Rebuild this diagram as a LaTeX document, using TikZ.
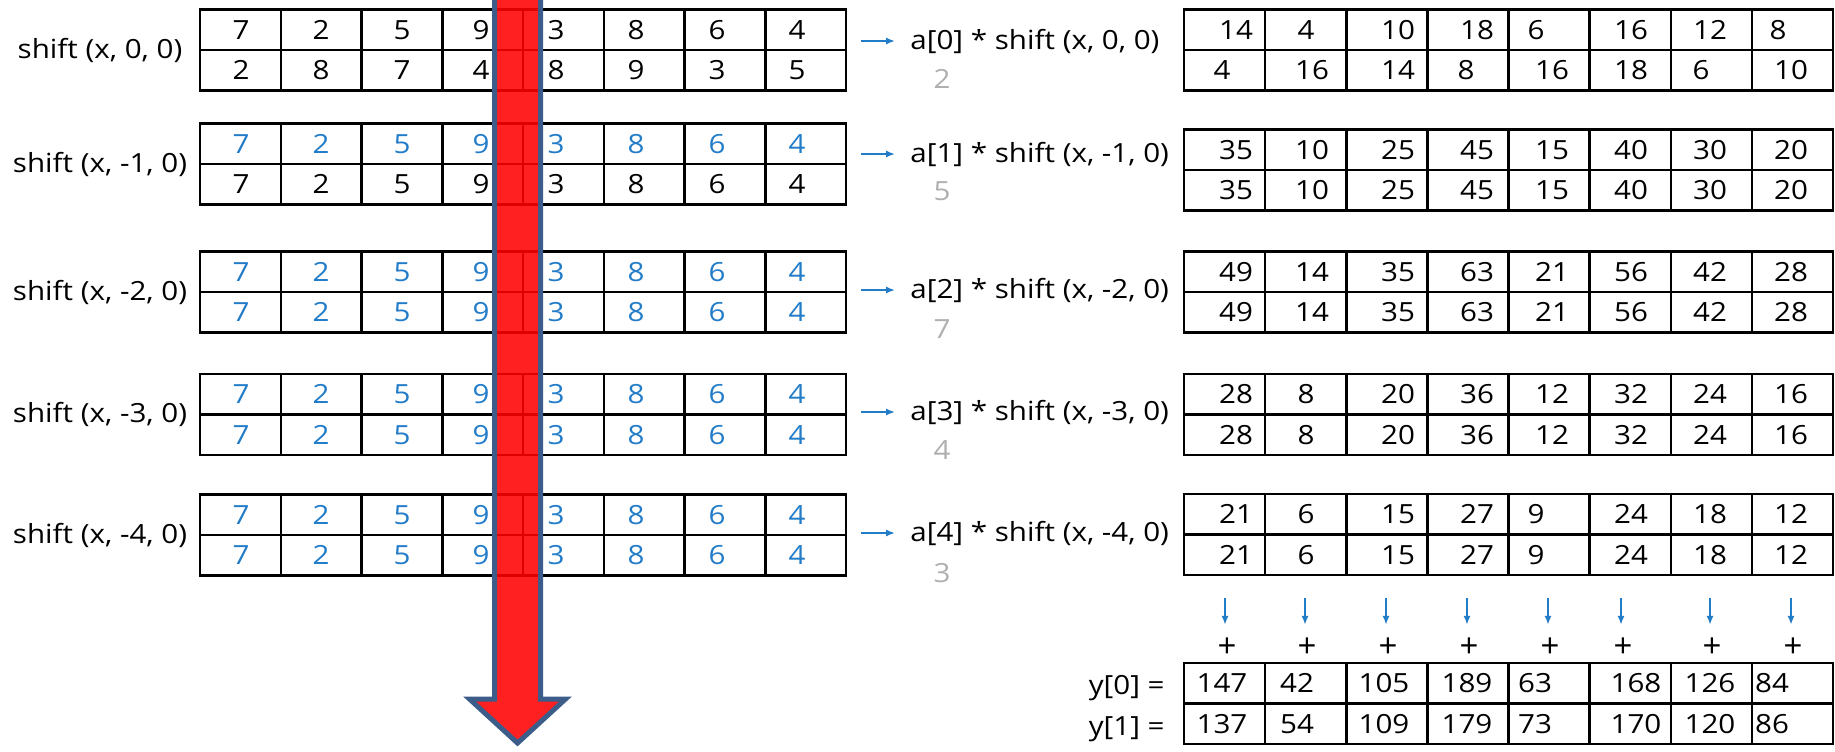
\documentclass[tikz,border=0pt]{standalone}
\usepackage{fontspec}
\setmainfont{Open Sans}
\usetikzlibrary{arrows.meta}
\definecolor{cellblue}{RGB}{34,124,200}
\definecolor{factorgrey}{RGB}{175,175,175}
\definecolor{arrowedge}{RGB}{60,92,138}
\tikzset{
  grid line/.style={line width=1.25pt,draw=black},
  cell/.style={inner sep=0pt,anchor=center},
  label text/.style={inner sep=0pt},
  sum sign/.style={inner sep=0pt,font=\fontsize{16.5}{18}\selectfont},
  flow/.style={-{Latex[length=4.5pt,width=3.6pt]},line width=1pt,draw=cellblue},
  sweep/.style={
    fill=red,
    fill opacity=0.87,
    draw=arrowedge,
    line width=2.5pt,
    line join=miter
  }
}
\newcommand{\widetext}[1]{\scalebox{1.12}[1]{#1}}
% frame of a two-row grid: left x, right x, top y
\newcommand{\gridframe}[3]{%
  \draw[grid line] (#1,#3) rectangle (#2,#3+81)
    (#1,#3+40.5) -- (#2,#3+40.5);
  \foreach \k in {1,...,7}
    \draw[grid line] ({#1+(#2-#1)*\k/8},#3) -- ++(0,81);
}
\newcommand{\inputrow}[4]{%
  \foreach \v [count=\i] in {#4} {
    \pgfmathsetmacro{\cx}{{241,321,402,481,556,636,717,797}[\i-1]}
    \node[cell,text=#3] (#1-\i) at (\cx,#2) {\widetext{\v}};
  }%
}
\newcommand{\productrow}[3]{%
  \foreach \v [count=\i] in {#3} {
    \ifnum\v<10
      \pgfmathsetmacro{\cx}{{1222,1306,1397,1466,1536,1631,1701,1778}[\i-1]}%
    \else
      \pgfmathsetmacro{\cx}{{1236,1312,1398,1477,1552,1631,1710,1791}[\i-1]}%
    \fi
    \node[cell] (#1-\i) at (\cx,#2) {\widetext{\v}};
  }%
}
\newcommand{\sumrow}[3]{%
  \foreach \v [count=\i] in {#3} {
    \pgfmathsetmacro{\cx}{{1222,1297,1384,1467,1535,1636,1710,1772}[\i-1]}
    \node[cell] (#1-\i) at (\cx,#2) {\widetext{\v}};
  }%
}

\begin{document}
\begin{tikzpicture}[x=0.5pt,y=-0.5pt,font=\fontsize{13.2}{16}\selectfont]
  \useasboundingbox (0,0) rectangle (1835,751);

  % shifted inputs
  \gridframe{200}{846}{9.5}
  \inputrow{inA}{29.75}{black}{7,2,5,9,3,8,6,4}
  \inputrow{inB}{70.25}{black}{2,8,7,4,8,9,3,5}
  \gridframe{200}{846}{123.5}
  \inputrow{inC}{143.75}{cellblue}{7,2,5,9,3,8,6,4}
  \inputrow{inD}{184.25}{black}{7,2,5,9,3,8,6,4}
  \gridframe{200}{846}{251.5}
  \inputrow{inE}{271.75}{cellblue}{7,2,5,9,3,8,6,4}
  \inputrow{inF}{312.25}{cellblue}{7,2,5,9,3,8,6,4}
  \gridframe{200}{846}{374}
  \inputrow{inG}{394.25}{cellblue}{7,2,5,9,3,8,6,4}
  \inputrow{inH}{434.75}{cellblue}{7,2,5,9,3,8,6,4}
  \gridframe{200}{846}{494.5}
  \inputrow{inI}{514.75}{cellblue}{7,2,5,9,3,8,6,4}
  \inputrow{inJ}{555.25}{cellblue}{7,2,5,9,3,8,6,4}

  \node[label text] (shift0) at (100,50) {\widetext{shift (x, 0, 0)}};
  \node[label text] (shift1) at (100,164) {\widetext{shift (x, -1, 0)}};
  \node[label text] (shift2) at (100,292) {\widetext{shift (x, -2, 0)}};
  \node[label text] (shift3) at (100,414.5) {\widetext{shift (x, -3, 0)}};
  \node[label text] (shift4) at (100,535) {\widetext{shift (x, -4, 0)}};

  % weighted shifts
  \foreach \y/\g/\k/\w in {41/79/0/2,154/191/1/5,290/329/2/7,412/450/3/4,533/573/4/3} {
    \pgfmathtruncatemacro{\s}{-\k}
    \coordinate (tail\k) at (861,\y);
    \node[label text,anchor=west] (prod\k) at (910,\y)
      {\widetext{a[\k] * shift (x, \s, 0)}};
    \node[label text,text=factorgrey] (fac\k) at (942,\g) {\widetext{\w}};
    \draw[flow,shorten >=7.5pt] (tail\k) -- (prod\k.west);
  }

  % products
  \gridframe{1184}{1833}{9.5}
  \productrow{pA}{29.75}{14,4,10,18,6,16,12,8}
  \productrow{pB}{70.25}{4,16,14,8,16,18,6,10}
  \gridframe{1184}{1833}{129.5}
  \productrow{pC}{149.75}{35,10,25,45,15,40,30,20}
  \productrow{pD}{190.25}{35,10,25,45,15,40,30,20}
  \gridframe{1184}{1833}{251.5}
  \productrow{pE}{271.75}{49,14,35,63,21,56,42,28}
  \productrow{pF}{312.25}{49,14,35,63,21,56,42,28}
  \gridframe{1184}{1833}{374}
  \productrow{pG}{394.25}{28,8,20,36,12,32,24,16}
  \productrow{pH}{434.75}{28,8,20,36,12,32,24,16}
  \gridframe{1184}{1833}{494}
  \productrow{pI}{514.25}{21,6,15,27,9,24,18,12}
  \productrow{pJ}{554.75}{21,6,15,27,9,24,18,12}

  % summation
  \foreach \x [count=\i] in {1225,1305,1386,1467,1548,1621,1710,1791} {
    \coordinate (drop\i) at (\x,598);
    \node[sum sign] (plus\i) at (\x+2,648) {+};
    \draw[flow,shorten >=6.5pt] (drop\i) -- (drop\i |- plus\i.north);
  }
  \gridframe{1184}{1833}{663}
  \sumrow{yA}{683.25}{147,42,105,189,63,168,126,84}
  \sumrow{yB}{723.75}{137,54,109,179,73,170,120,86}
  \node[label text,anchor=east] (ylab0) at (1165,688) {\widetext{y[0] =}};
  \node[label text,anchor=east] (ylab1) at (1165,729) {\widetext{y[1] =}};

  % sweep arrow over the inputs
  \draw[sweep] (494.5,-10) -- (494.5,699) -- (469.5,699) -- (517.5,743)
    -- (565.5,699) -- (540.5,699) -- (540.5,-10) -- cycle;
\end{tikzpicture}
\end{document}
